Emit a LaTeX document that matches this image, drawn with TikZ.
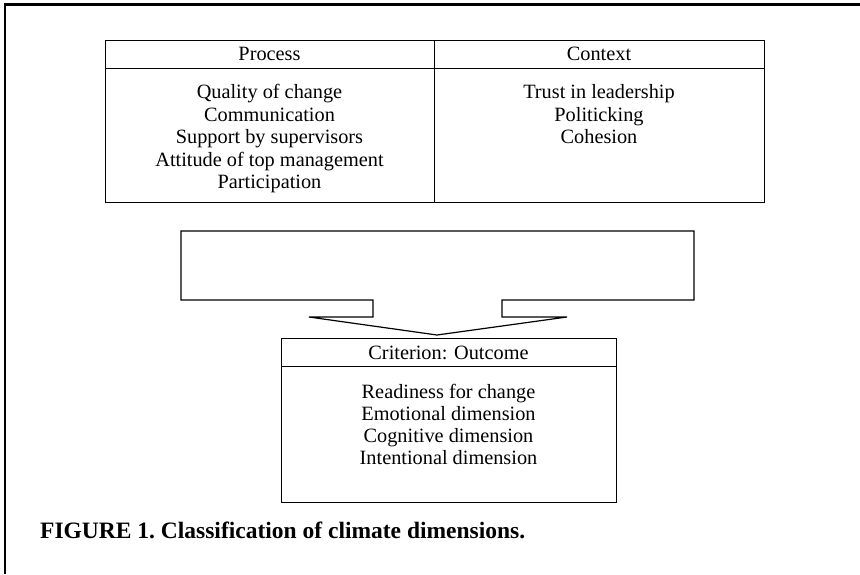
\documentclass[tikz,border=0pt]{standalone}
\usepackage{fontspec}
\setmainfont{Liberation Serif}
\begin{document}
\begin{tikzpicture}[x=1pt,y=-1pt,
  box/.style={draw=black,line width=1pt},
  framestyle/.style={draw=black,line width=2.6pt},
  txt/.style={anchor=base,inner sep=0pt,font=\fontsize{20.3}{24}\selectfont},
  captext/.style={anchor=base west,inner sep=0pt,font=\fontsize{23.5}{26}\selectfont\bfseries\frenchspacing}]
\useasboundingbox (0,0) rectangle (860,574);
% frame
\coordinate (fbl) at (5,574);
\coordinate (ftl) at (5,4.5);
\coordinate (ftr) at (860,4.5);
\draw[framestyle] (fbl) -- (ftl) -- (ftr);
% top table
\draw[box] (105,40) rectangle (764,202);
\draw[box] (105,68) -- (764,68);
\draw[box] (434,40) -- (434,202);
\node[txt] (proc) at (269.5,60.5) {Process};
\node[txt] (ctx) at (599,60.5) {Context};
\node[txt] (p1) at (269.5,98.5) {Quality of change};
\node[txt] (p2) at (269.5,121) {Communication};
\node[txt] (p3) at (269.5,143.5) {Support by supervisors};
\node[txt] (p4) at (269.5,166) {Attitude of top management};
\node[txt] (p5) at (269.5,188.5) {Participation};
\node[txt] (c1) at (599,98.5) {Trust in leadership};
\node[txt] (c2) at (599,121) {Politicking};
\node[txt] (c3) at (599,143.5) {Cohesion};
% arrow
\draw[line width=1.2pt,line join=miter] (181,231) -- (694,231) -- (694,300) -- (502,300) -- (502,317) -- (567,317) -- (437,335) -- (309,317) -- (373,317) -- (373,300) -- (181,300) -- cycle;
% criterion box
\draw[box] (281,338) rectangle (616,502);
\draw[box] (281,366) -- (616,366);
\node[txt] (crit) at (448.5,359.5) {Criterion: Outcome};
\node[txt] (o1) at (448.5,398) {Readiness for change};
\node[txt] (o2) at (448.5,420) {Emotional dimension};
\node[txt] (o3) at (448.5,442.5) {Cognitive dimension};
\node[txt] (o4) at (448.5,464.5) {Intentional dimension};
% caption
\node[captext] (caption) at (40,538) {FIGURE 1. Classification of climate dimensions.};
\end{tikzpicture}
\end{document}
